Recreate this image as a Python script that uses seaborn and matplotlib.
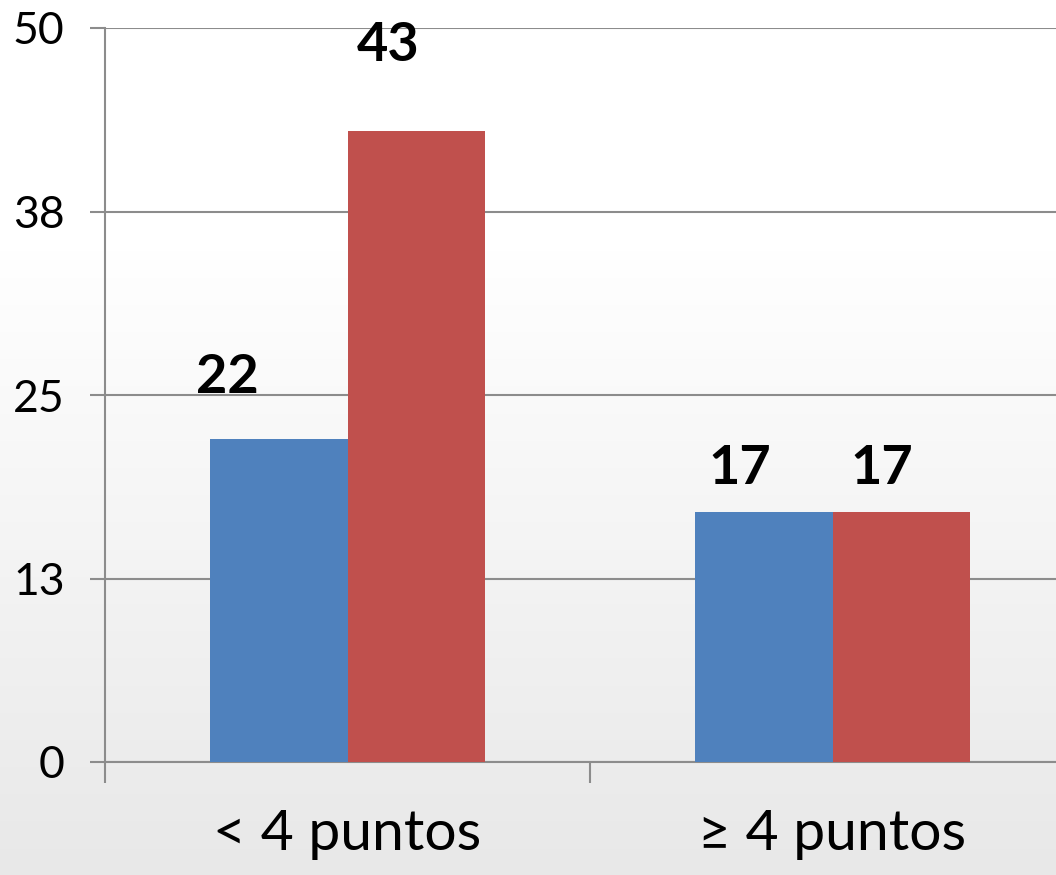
import numpy as np
import pandas as pd
import matplotlib
matplotlib.use('Agg')
import matplotlib.pyplot as plt
import seaborn as sns

categorias = ['< 4 puntos', '≥ 4 puntos']
serie_1 = [22, 17]
serie_2 = [43, 17]
nombres_series = ['serie 1', 'serie 2']
ticks_y = [0, 12.5, 25, 37.5, 50]
etiquetas_y = ['0', '13', '25', '38', '50']

df = pd.DataFrame({
    'categoria': categorias * 2,
    'valor': serie_1 + serie_2,
    'serie': [nombres_series[0]] * len(categorias) + [nombres_series[1]] * len(categorias),
})

sns.set_style('white', {'text.color': 'black', 'xtick.color': 'black', 'ytick.color': 'black',
                        'xtick.bottom': True, 'ytick.left': True})
plt.rcParams['font.family'] = ['Lato', 'DejaVu Sans']

fig = plt.figure(figsize=(10.56, 8.75), dpi=100)

# background gradient, white on top to light grey at the bottom
bg = fig.add_axes([0, 0, 1, 1], zorder=-10)
grad = np.concatenate([np.ones(250), np.linspace(1.0, 0.91, 625)])
bg.imshow(np.tile(grad[:, None], (1, 10))[:, :, None].repeat(3, axis=2),
          aspect='auto', extent=[0, 1, 0, 1])
bg.axis('off')

ax = fig.add_axes([105 / 1056, 1 - 762 / 875, 970 / 1056, 734 / 875])
ax.patch.set_alpha(0)

sns.barplot(df, x='categoria', y='valor', hue='serie', order=categorias,
            palette=['#4F81BD', '#C0504D'], width=0.567, saturation=1,
            linewidth=0, legend=False, ax=ax, zorder=3)

ax.set_xlim(-0.5, 1.5)
ax.set_ylim(0, 50)
ax.set_xlabel('')
ax.set_ylabel('')

ax.set_yticks(ticks_y, etiquetas_y, fontsize=32)
ax.set_xticks([-0.5, 0.5, 1.5], ['', '', ''])
ax.set_xticks([0, 1], categorias, minor=True, fontsize=41)
ax.tick_params(axis='x', which='major', bottom=True, length=15, width=1.5,
               color='#8c8c8c', direction='out')
ax.tick_params(axis='x', which='minor', bottom=False, length=0, pad=34, labelcolor='black')
ax.tick_params(axis='y', length=11, width=1.5, color='#8c8c8c', direction='out', pad=18,
               left=True, labelcolor='black')
ax.grid(axis='y', color='#8c8c8c', linewidth=1.5, zorder=0)
ax.set_axisbelow(True)

for s in ['top', 'right']:
    ax.spines[s].set_visible(False)
for s in ['left', 'bottom']:
    ax.spines[s].set_color('#8c8c8c')
    ax.spines[s].set_linewidth(1.5)

# value labels, offsets in points (per series, per category)
off_x = [[-37, -17], [-20, -14]]
off_y = [[27, 14], [44, 14]]
for k, cont in enumerate(ax.containers):
    for j, bar in enumerate(cont):
        ax.annotate(str(int(bar.get_height())),
                    (bar.get_x() + bar.get_width() / 2, bar.get_height()),
                    xytext=(off_x[k][j], off_y[k][j]), textcoords='offset points',
                    ha='center', va='bottom', fontsize=39, fontweight='bold',
                    color='black')

fig.savefig('out.png', dpi=100)
